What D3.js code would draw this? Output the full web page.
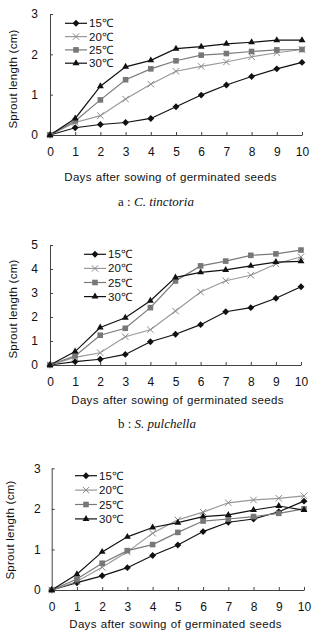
<!DOCTYPE html>
<html><head><meta charset="utf-8">
<script src="https://cdn.jsdelivr.net/npm/d3@7"></script>
<style>body{margin:0;background:#fff}svg{display:block}</style>
</head><body>
<svg id="chart" width="314" height="631"></svg>
<script>
const days = [0,1,2,3,4,5,6,7,8,9,10];
const temps = ["15℃","20℃","25℃","30℃"];
// a : C. tinctoria
const a15 = [0,0.18,0.26,0.31,0.41,0.70,0.99,1.24,1.45,1.64,1.80];
const a20 = [0,0.31,0.48,0.89,1.26,1.58,1.70,1.81,1.94,2.04,2.12];
const a25 = [0,0.35,0.87,1.37,1.64,1.84,1.98,2.02,2.07,2.11,2.12];
const a30 = [0,0.41,1.21,1.69,1.85,2.14,2.19,2.26,2.30,2.35,2.35];
// b : S. pulchella
const b15 = [0,0.14,0.24,0.44,0.97,1.28,1.68,2.22,2.39,2.78,3.26];
const b20 = [0,0.32,0.51,1.18,1.47,2.25,3.04,3.51,3.74,4.21,4.51];
const b25 = [0,0.38,1.24,1.53,2.39,3.50,4.13,4.33,4.57,4.63,4.79];
const b30 = [0,0.56,1.56,1.97,2.68,3.65,3.86,3.96,4.13,4.29,4.32];
// c
const c15 = [0,0.18,0.35,0.55,0.85,1.11,1.44,1.67,1.75,1.93,2.19];
const c20 = [0,0.21,0.56,0.94,1.40,1.73,1.92,2.15,2.22,2.26,2.32];
const c25 = [0,0.27,0.66,0.97,1.12,1.42,1.70,1.75,1.81,1.89,2.00];
const c30 = [0,0.39,0.94,1.31,1.54,1.66,1.81,1.85,1.97,2.07,1.97];
const aTicks = [0,1,2,3], bTicks = [0,1,2,3,4,5], cTicks = [0,1,2,3];
const xTitle = "Days after sowing of germinated seeds";
const yTitle = "Sprout length (cm)";

const svg = d3.select("#chart");
const FONT = "'Liberation Sans', Arial, sans-serif";
const styles = [
  {line:"#111", fill:"#111", sym:d3.symbolDiamond2, size:30},
  {line:"#999", fill:"#888", sym:"x", size:0},
  {line:"#7a7a7a", fill:"#777", sym:d3.symbolSquare2, size:40},
  {line:"#111", fill:"#111", sym:d3.symbolTriangle2, size:34}
];

function marker(g, st, x, y) {
  if (st.sym === "x") {
    const r = 3.2;
    g.append("path").attr("d",`M${x-r},${y-r}L${x+r},${y+r}M${x-r},${y+r}L${x+r},${y-r}`)
      .attr("stroke", st.fill).attr("stroke-width",1).attr("fill","none");
  } else {
    g.append("path").attr("d", d3.symbol().type(st.sym).size(st.size)())
      .attr("transform", `translate(${x},${y})`).attr("fill", st.fill);
  }
}

function panel(p) {
  const x = d3.scaleLinear().domain([0,10]).range([p.x0, p.x1]);
  const y = d3.scaleLinear().domain([0, p.ymax]).range([p.y0, p.yt]);
  const g = svg.append("g");
  const xa = g.append("g").attr("transform",`translate(0,${p.y0})`)
    .call(d3.axisBottom(x).tickValues(days).tickFormat(d3.format("d")).tickSizeInner(-3).tickSizeOuter(0).tickPadding(p.xpad));
  const ya = g.append("g").attr("transform",`translate(${p.x0},0)`)
    .call(d3.axisLeft(y).tickValues(p.ticks).tickFormat(d3.format("d")).tickSizeInner(-3).tickSizeOuter(0).tickPadding(p.ypad));
  [xa, ya].forEach(a => {
    a.select(".domain").attr("stroke","#444");
    a.selectAll(".tick line").attr("stroke","#444");
    a.selectAll("text").attr("font-family",FONT).attr("font-size",12).attr("fill","#111");
  });
  xa.selectAll("text").attr("dy","0.71em");
  const series = p.series;
  series.forEach((s,i) => {
    const st = styles[i];
    g.append("path").datum(s)
      .attr("d", d3.line().x((d,j)=>x(days[j])).y(d=>y(d)))
      .attr("fill","none").attr("stroke",st.line).attr("stroke-width",1.2);
  });
  series.forEach((s,i) => {
    s.forEach((d,j) => marker(g, styles[i], x(days[j]), y(d)));
  });
  // legend
  temps.forEach((t,i) => {
    const ly = p.ly + i*p.lstep;
    g.append("line").attr("x1",p.lx).attr("x2",p.lx+22).attr("y1",ly).attr("y2",ly)
      .attr("stroke",styles[i].line).attr("stroke-width",1.2);
    marker(g, styles[i], p.lx+11, ly);
    g.append("text").attr("x",p.lx+24).attr("y",ly).attr("dy","0.35em")
      .attr("font-family",FONT).attr("font-size",11.5).attr("fill","#111").text(t);
  });
  g.append("text").attr("x",p.tx).attr("y",p.ty).attr("dy","0.35em").attr("text-anchor","middle")
    .attr("font-family",FONT).attr("font-size",11.5).attr("letter-spacing",0.3).attr("word-spacing",0.5)
    .attr("fill","#111").text(xTitle);
  g.append("text").attr("transform",`translate(${p.yx},${p.yy}) rotate(-90)`).attr("dy","0.35em")
    .attr("text-anchor","middle").attr("font-family",FONT).attr("font-size",11.5).attr("letter-spacing",0.25)
    .attr("fill","#111").text(yTitle);
  if (p.cap) {
    const c = g.append("text").attr("x",p.cx).attr("y",p.cy).attr("dy","0.35em").attr("text-anchor","middle")
      .attr("font-family","'Liberation Serif','Times New Roman',serif").attr("font-size",13).attr("fill","#111");
    c.append("tspan").text(p.cap[0]);
    c.append("tspan").attr("font-style","italic").text(p.cap[1]);
  }
}

panel({series:[a15,a20,a25,a30], ticks:aTicks, ymax:3, x0:50, x1:302, y0:135, yt:14,
  xpad:12, ypad:12, lx:65, ly:23.3, lstep:13.3, tx:170.5, ty:176.7, yx:12.5, yy:79,
  cap:["a : ","C. tinctoria"], cx:156, cy:201.7});
panel({series:[b15,b20,b25,b30], ticks:bTicks, ymax:5, x0:50, x1:301, y0:365, yt:245,
  xpad:12, ypad:12, lx:84, ly:254.3, lstep:14.1, tx:177.5, ty:400, yx:12.5, yy:309,
  cap:["b : ","S. pulchella"], cx:157, cy:423.3});
panel({series:[c15,c20,c25,c30], ticks:cTicks, ymax:3, x0:51.7, x1:304, y0:590, yt:468.3,
  xpad:12, ypad:11, lx:75, ly:475.7, lstep:14.4, tx:175.5, ty:624, yx:10, yy:530});
</script>
</body></html>
